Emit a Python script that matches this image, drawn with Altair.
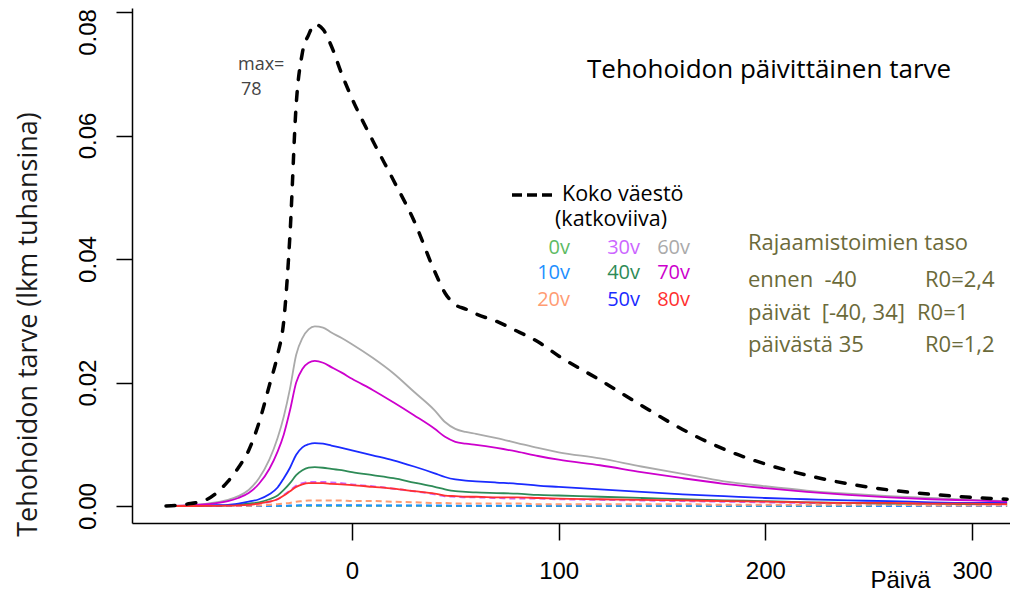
import altair as alt
import pandas as pd

days = [-90, -80, -70, -60, -55, -50, -45, -40, -36, -33, -30, -27, -24, -21, -18, -14, -10, -5, 0, 10,
        20, 30, 40, 45, 50, 55, 60, 70, 80, 90, 100, 120, 140, 160, 180, 200, 220, 240, 260, 280, 300, 317]

koko = [0.0000, 0.0003, 0.0011, 0.0040, 0.0062, 0.0090, 0.0135, 0.0195, 0.0245, 0.0300,
        0.0440, 0.0650, 0.0734, 0.0763, 0.0780, 0.0772, 0.0745, 0.0700, 0.0660, 0.0592,
        0.0528, 0.0462, 0.0380, 0.0345, 0.0326, 0.0319, 0.0311, 0.0299, 0.0283, 0.0266,
        0.0243, 0.0204, 0.0163, 0.0124, 0.0092, 0.0068, 0.0050, 0.0036, 0.0026, 0.0019, 0.0014, 0.0011]

v0 = [0, 0, 0, 0, 0, 0, 0, 0.00001, 0.00001, 0.00002,
      0.00002, 0.00003, 0.00003, 0.00004, 0.00004, 0.00004, 0.00004, 0.00003, 0.00003, 0.00003,
      0.00003, 0.00003, 0.00002, 0.00002, 0.00002, 0.00002, 0.00002, 0.00002, 0.00002, 0.00002,
      0.00001, 0.00001, 0.00001, 0.00001, 0.00001, 0.00001, 0.00001, 0.00001, 0.00001, 0.00001, 0.00001, 0.00001]
v10 = [0, 0, 0, 0, 0, 0.00001, 0.00001, 0.00002, 0.00003, 0.00005,
       0.00007, 0.0001, 0.00011, 0.00012, 0.00012, 0.00012, 0.00012, 0.00011, 0.00011, 0.0001,
       0.0001, 0.00009, 0.00008, 0.00007, 0.00006, 0.00006, 0.00006, 0.00006, 0.00005, 0.00005,
       0.00005, 0.00005, 0.00004, 0.00004, 0.00004, 0.00003, 0.00003, 0.00003, 0.00002, 0.00002, 0.00002, 0.00002]
v20 = [0, 0, 0, 0.00001, 0.00002, 0.00005, 0.0001, 0.0002, 0.0003, 0.0004,
       0.0005, 0.0007, 0.0008, 0.0009, 0.0009, 0.0009, 0.0009, 0.0009, 0.0008, 0.0008,
       0.0007, 0.0006, 0.0005, 0.0005, 0.0004, 0.0004, 0.0004, 0.0004, 0.0004, 0.0003,
       0.0003, 0.0003, 0.0003, 0.0003, 0.0002, 0.0002, 0.0002, 0.0002, 0.0002, 0.0001, 0.0001, 0.0001]
v30 = [0, 0, 0.00002, 0.00005, 0.0001, 0.0002, 0.0004, 0.0007, 0.0011, 0.0018,
       0.0025, 0.0033, 0.0037, 0.0039, 0.0039, 0.0039, 0.0038, 0.0037, 0.0035, 0.0032,
       0.0028, 0.0024, 0.0019, 0.0016, 0.0015, 0.0014, 0.0014, 0.0013, 0.0012, 0.0012,
       0.0011, 0.0010, 0.0009, 0.0008, 0.0007, 0.0006, 0.0005, 0.0005, 0.0004, 0.0004, 0.0003, 0.0003]
v40 = [0, 0, 0.00005, 0.0001, 0.0002, 0.0004, 0.0006, 0.0011, 0.0017, 0.0026,
       0.0037, 0.0050, 0.0058, 0.0062, 0.0063, 0.0062, 0.0060, 0.0058, 0.0055, 0.0050,
       0.0045, 0.0038, 0.0031, 0.0027, 0.0024, 0.0023, 0.0022, 0.0021, 0.0020, 0.0018,
       0.0017, 0.0015, 0.0013, 0.0011, 0.0009, 0.0008, 0.0006, 0.0005, 0.0004, 0.0004, 0.0003, 0.0003]
v50 = [0, 0.00002, 0.0001, 0.0002, 0.0004, 0.0007, 0.0011, 0.0019, 0.0030, 0.0045,
       0.0062, 0.0083, 0.0095, 0.0100, 0.0102, 0.0101, 0.0098, 0.0094, 0.0090, 0.0082,
       0.0074, 0.0064, 0.0053, 0.0047, 0.0043, 0.0041, 0.0040, 0.0038, 0.0036, 0.0033,
       0.0031, 0.0027, 0.0023, 0.0019, 0.0016, 0.0013, 0.0011, 0.0009, 0.0008, 0.0006, 0.0005, 0.0005]
v60 = [0, 0.0001, 0.0004, 0.0010, 0.0016, 0.0026, 0.0045, 0.0075, 0.0110, 0.0145,
       0.0190, 0.0245, 0.0272, 0.0286, 0.0291, 0.0289, 0.0281, 0.0272, 0.0262, 0.0240,
       0.0215, 0.0185, 0.0155, 0.0136, 0.0125, 0.0120, 0.0117, 0.0110, 0.0102, 0.0094,
       0.0087, 0.0077, 0.0064, 0.0052, 0.0040, 0.0032, 0.0025, 0.0020, 0.0016, 0.0013, 0.0010, 0.0008]
v70 = [0, 0.0001, 0.0003, 0.0008, 0.0013, 0.0021, 0.0036, 0.0060, 0.0088, 0.0116,
       0.0155, 0.0200, 0.0222, 0.0232, 0.0235, 0.0232, 0.0225, 0.0216, 0.0206, 0.0188,
       0.0168, 0.0147, 0.0125, 0.0112, 0.0104, 0.0101, 0.0099, 0.0094, 0.0088, 0.0081,
       0.0075, 0.0066, 0.0055, 0.0045, 0.0036, 0.0029, 0.0023, 0.0018, 0.0014, 0.0011, 0.0009, 0.0007]
v80 = [0, 0, 0.00002, 0.00005, 0.0001, 0.0002, 0.0004, 0.0007, 0.0011, 0.0017,
       0.0024, 0.0031, 0.0035, 0.0037, 0.0037, 0.0037, 0.0036, 0.0035, 0.0034, 0.0031,
       0.0028, 0.0024, 0.0020, 0.0017, 0.0016, 0.0015, 0.0015, 0.0014, 0.0014, 0.0013,
       0.0012, 0.0011, 0.0010, 0.0009, 0.0008, 0.0007, 0.0006, 0.0005, 0.0005, 0.0004, 0.0004, 0.0003]

age_labels = ["0v", "10v", "20v", "30v", "40v", "50v", "60v", "70v", "80v"]
age_values = [v0, v10, v20, v30, v40, v50, v60, v70, v80]
age_colors = ["#5dbb63", "#1e90ff", "#ff9c73", "#cc66ff", "#2e8b57", "#1a2bff", "#aaaaaa", "#cd00cd", "#ff3030"]
age_dashed = [True, True, True, True, False, False, False, False, False]

x_ticks = [0, 100, 200, 300]
y_ticks = [0.0, 0.02, 0.04, 0.06, 0.08]

title_text = "Tehohoidon päivittäinen tarve"
y_title = "Tehohoidon tarve (lkm tuhansina)"
x_title = "Päivä"
legend_main = ["Koko väestö", "(katkoviiva)"]
max_text = ["max=", "78"]
measures_title = "Rajaamistoimien taso"
measures_left = ["ennen\u00a0 -40", "päivät\u00a0 [-40, 34]", "päivästä 35"]
measures_right = ["R0=2,4", "R0=1", "R0=1,2"]

W, H = 878, 515
xscale = alt.Scale(domain=[-106.45, 318.4], nice=False, zero=False)
yscale = alt.Scale(domain=[-0.00275, 0.08065], nice=False, zero=False)

x_enc = alt.X("paiva:Q", scale=xscale, axis=alt.Axis(
    values=x_ticks, format="d", grid=False, labelFlush=False, labelOverlap=False,
    labelFont="Liberation Sans", labelFontSize=24, labelColor="black", labelPadding=19,
    tickSize=17, tickWidth=1.5, tickColor="black", domainColor="black", domainWidth=1.5,
    title=x_title, titleFont="Liberation Sans", titleFontSize=24, titleFontWeight="normal",
    titleColor="black", titleX=768, titleY=64, titleAlign="center", titleBaseline="alphabetic"))
y_enc = alt.Y("arvo:Q", scale=yscale, axis=alt.Axis(
    values=y_ticks, format=".2f", grid=False, labelFlush=False, labelOverlap=False,
    labelAngle=270, labelAlign="center", labelBaseline="alphabetic",
    labelOffset=alt.condition("datum.value > 0.07", alt.value(20), alt.value(0)),
    labelFont="Liberation Sans", labelFontSize=24, labelColor="black", labelPadding=21,
    tickSize=16, tickWidth=1.5, tickColor="black", domainColor="black", domainWidth=1.5,
    title=y_title, titleFont="Open Sans", titleFontSize=27, titleFontWeight="normal",
    titleColor="#1a1a1a", titleAngle=270, titleX=-96, titleY=316, titleAlign="center",
    titleBaseline="alphabetic"))

layers = []
for name, vals, col, dashed in zip(age_labels, age_values, age_colors, age_dashed):
    df = pd.DataFrame({"paiva": days, "arvo": vals, "ika": name})
    kw = dict(color=col, strokeWidth=2 if dashed else 1.8, interpolate="monotone")
    if dashed:
        kw["strokeDash"] = [6, 4]
    layers.append(alt.Chart(df).mark_line(**kw).encode(x=x_enc, y=y_enc))

df_koko = pd.DataFrame({"paiva": days, "arvo": koko, "ika": "Koko väestö"})
layers.append(alt.Chart(df_koko).mark_line(color="black", strokeWidth=3.5, strokeDash=[9, 12],
                                           strokeCap="round", interpolate="monotone")
              .encode(x=x_enc, y=y_enc))

one = pd.DataFrame({"k": [0]})


def txt(text, x, y, size, color="black", align="left", font="Open Sans"):
    return alt.Chart(one).mark_text(text=text, align=align, baseline="middle", font=font,
                                    fontSize=size, color=color).encode(x=alt.value(x), y=alt.value(y))


# title and max annotation
layers.append(txt(title_text, 455, 62, 26))
layers.append(txt(max_text[0], 106, 57, 18, color="#444444"))
layers.append(txt(max_text[1], 109, 82, 18, color="#444444"))

# legend
layers.append(alt.Chart(one).mark_rule(color="black", strokeWidth=3.5, strokeDash=[10, 5])
              .encode(x=alt.value(380), x2=alt.value(423), y=alt.value(187)))
layers.append(txt(legend_main[0], 430, 187, 21.5))
layers.append(txt(legend_main[1], 423, 212, 21.5))
col_x = [438, 508, 558]
row_y = [240, 265, 292]
for i, (lab, col) in enumerate(zip(age_labels, age_colors)):
    layers.append(txt(lab, col_x[i // 3], row_y[i % 3], 20, color=col, align="right"))

# measures block
olive = "#6b6a3a"
layers.append(txt(measures_title, 616, 235, 22, color=olive))
m_rows = [272, 305, 337]
r_x = [793, 785, 793]
for lt, rt, yy, rx in zip(measures_left, measures_right, m_rows, r_x):
    layers.append(txt(lt, 616, yy, 22, color=olive))
    layers.append(txt(rt, rx, yy, 22, color=olive))

chart = alt.layer(*layers).properties(
    width=W, height=H, autosize="none",
    padding={"left": 124, "top": 0, "right": 0, "bottom": 70},
).configure_view(stroke=None)

chart.save("out.html", embed_options={"renderer": "svg", "actions": False})
